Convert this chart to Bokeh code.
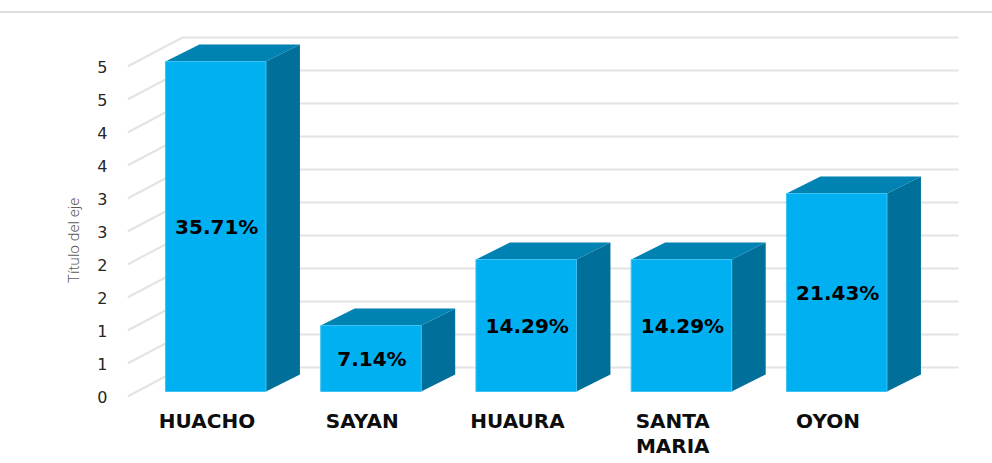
from bokeh.plotting import figure
from bokeh.models import Range1d, FixedTicker
from bokeh.core.properties import value as V
from bokeh.embed import file_html
from bokeh.resources import INLINE

categories = ["HUACHO", "SAYAN", "HUAURA", "SANTA\nMARIA", "OYON"]
values = [5, 1, 2, 2, 3]
percent_labels = ["35.71%", "7.14%", "14.29%", "14.29%", "21.43%"]
tick_values = [0, 0.5, 1, 1.5, 2, 2.5, 3, 3.5, 4, 4.5, 5]
tick_labels = ["0", "1", "1", "2", "2", "3", "3", "4", "4", "5", "5"]

PX_X, PX_Y = 155.25, 66.0       # pixels per data unit
WALL_DX, WALL_DY = 55 / PX_X, 29 / PX_Y
WALL_END = 831 / PX_X
BAR_SHIFT, BAR_W = 7.2 / PX_X, 100.5 / PX_X
BAR_BASE = 5 / PX_Y
DEPTH_X, DEPTH_Y = 34 / PX_X, 17 / PX_Y

p = figure(width=992, height=463, output_backend="svg", toolbar_location=None,
           x_range=Range1d(-81 / PX_X, 752 / PX_X), y_range=Range1d(-67 / PX_Y, 379 / PX_Y),
           min_border_left=127, min_border_right=32, min_border_top=17, min_border_bottom=0,
           outline_line_color=None, background_fill_color=None, border_fill_color=None)
p.grid.visible = False
p.xaxis.visible = False
# thin rule across the top of the page
p.styles = {"background": "linear-gradient(#dcdcdc,#dcdcdc) 0 11px / 100% 2px no-repeat"}

# walls
x_ref = -81 / PX_X
xs, ys = [], []
for t in tick_values:
    xs.append([x_ref, x_ref + WALL_DX, x_ref + WALL_END])
    ys.append([t, t + WALL_DY, t + WALL_DY])
p.multi_line(xs, ys, line_color="#e3e3e3", line_width=2)

# bars
for i, v in enumerate(values):
    l = i + BAR_SHIFT - BAR_W / 2
    r = l + BAR_W
    b = BAR_BASE
    t = BAR_BASE + v
    p.patch([r, r + DEPTH_X, r + DEPTH_X, r], [b, b + DEPTH_Y, t + DEPTH_Y, t],
            fill_color="#00709B", line_color=None)
    p.patch([l, l + DEPTH_X, r + DEPTH_X, r], [t, t + DEPTH_Y, t + DEPTH_Y, t],
            fill_color="#0082B2", line_color=None)
    p.quad(left=l, right=r, bottom=b, top=t, fill_color="#00B0F0", line_color="#3CC3F3", line_width=1)

# percent labels
p.text(x=[i + BAR_SHIFT + 1 / PX_X for i in range(5)],
       y=[BAR_BASE + v / 2 for v in values],
       text=percent_labels, text_align="center", text_baseline="middle",
       text_font=V("DejaVu Sans"), text_font_style="bold", text_font_size="20px", text_color="#000000")

# category labels
p.text(x=[i - 1.5 / PX_X for i in range(5)], y=[-12 / PX_Y] * 5, text=categories,
       text_align="center", text_baseline="top", text_line_height=1.05,
       text_font=V("DejaVu Sans"), text_font_style="bold", text_font_size="20px", text_color="#0d0d0d")

# y axis
p.yaxis.ticker = FixedTicker(ticks=tick_values)
p.yaxis.major_label_overrides = dict(zip(tick_values, tick_labels))
p.yaxis.axis_line_color = None
p.yaxis.major_tick_line_color = None
p.yaxis.minor_tick_line_color = None
p.yaxis.major_label_standoff = 14
p.yaxis.major_label_text_font = "DejaVu Sans"
p.yaxis.major_label_text_font_size = "16px"
p.yaxis.major_label_text_color = "#262626"
p.yaxis.axis_label = "Título del eje"
p.yaxis.axis_label_text_font = "Roboto Light, Roboto"
p.yaxis.axis_label_text_font_style = "normal"
p.yaxis.axis_label_text_font_size = "15.5px"
p.yaxis.axis_label_text_color = "#595959"
p.yaxis.axis_label_standoff = 11

open("out.html", "w").write(file_html(p, INLINE))
